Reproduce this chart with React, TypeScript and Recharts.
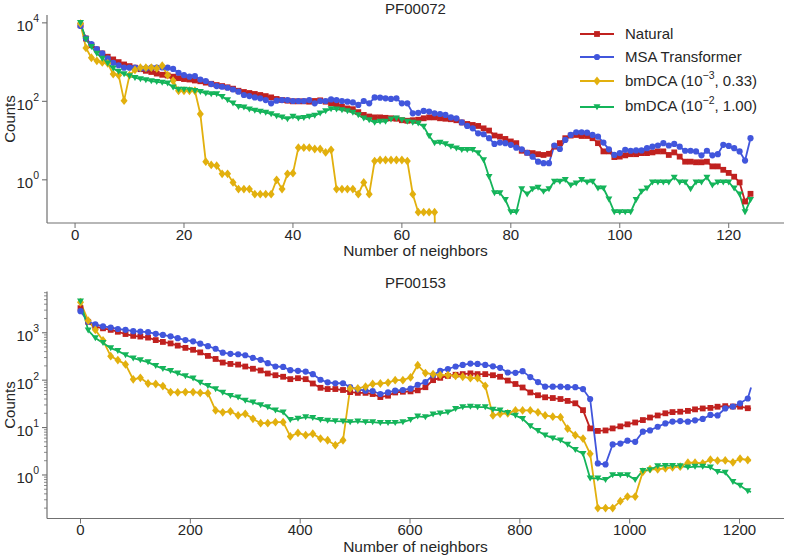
import React from 'react';
import { LineChart, Line, XAxis, YAxis } from 'recharts';

const RED = '#c0211f';
const BLUE = '#4156dc';
const GOLD = '#e2b00e';
const GREEN = '#14b45a';
const INK = '#262626';
const FRAME = '#707070';
const FONT = '"Liberation Sans", Arial, Helvetica, sans-serif';

// ---- PF00072: one point per neighbour count ----
const neighbors72 = Array.from({ length: 124 }, (_, i) => i + 1);
const natural72 = [
  8700, 4000, 2700, 2100, 1660, 1370, 1170, 1000, 870, 790,
  720, 660, 600, 560, 510, 475, 455, 425, 390, 370,
  360, 340, 325, 300, 280, 260, 245, 228, 210, 186,
  173, 163, 154, 145, 136, 126, 115, 108, 104, 100,
  100, 100, 98, 102, 106, 98, 89, 81, 73, 66,
  63, 53, 45, 41, 39, 39, 38, 37, 36, 33,
  32, 33, 34, 37, 39, 39, 37, 36, 35, 33,
  29, 26.5, 25, 23.6, 20.5, 18, 13.5, 12.6, 11, 9.5,
  8.6, 5.5, 4.9, 4.8, 4.5, 4.3, 4.6, 7.0, 8.6, 11.5,
  13.4, 13.9, 13.1, 13.1, 11.5, 8.6, 5.3, 5.3, 3.8, 3.9,
  4.2, 4.5, 4.5, 4.8, 4.8, 5.0, 5.3, 5.3, 4.3, 5.0,
  3.9, 2.9, 2.9, 2.8, 2.8, 2.9, 2.2, 2.2, 1.8, 1.5,
  1.2, 0.86, 0.28, 0.44,
];
const msa72 = [
  8300, 4000, 2880, 2140, 1660, 1240, 960, 830, 720, 720,
  720, 690, 690, 720, 720, 730, 720, 670, 535, 465,
  425, 440, 360, 330, 275, 245, 235, 222, 200, 176,
  145, 136, 126, 119, 108, 89, 104, 108, 108, 102,
  102, 102, 108, 89, 102, 102, 112, 108, 102, 98,
  94, 81, 102, 89, 126, 124, 119, 115, 119, 89,
  89, 49.6, 51, 57, 55, 49.6, 47.5, 45, 39, 37,
  29, 23.6, 20.5, 15.3, 14.5, 11.5, 8.2, 8.9, 8.6, 7.8,
  6.6, 6.0, 4.9, 3.9, 2.9, 2.65, 2.65, 7.5, 6.1, 10.4,
  13.9, 16.3, 16.3, 15.9, 13.9, 12.6, 8.9, 6.0, 4.3, 4.8,
  5.8, 5.5, 5.6, 5.6, 6.4, 7.0, 7.5, 8.6, 7.5, 8.2,
  7.0, 5.5, 5.5, 5.3, 4.2, 5.5, 4.2, 4.5, 7.8, 7.3,
  6.4, 5.3, 3.1, 11.5,
];
// last entry is a zero count (drawn as a drop off the bottom of the log axis)
const bmdca3_72 = [
  9600, 2300, 1290, 1080, 980, 930, 495, 465, 104, 465,
  630, 720, 720, 720, 690, 810, 465, 335, 186, 186,
  186, 186, 47.5, 2.9, 2.4, 2.3, 1.42, 1.42, 0.86, 0.58,
  0.58, 0.58, 0.43, 0.43, 0.43, 0.43, 1.0, 0.58, 1.42, 1.48,
  6.6, 6.6, 6.6, 6.1, 6.1, 5.0, 5.8, 0.58, 0.58, 0.58,
  0.58, 0.43, 0.86, 0.43, 3.0, 3.2, 3.2, 3.2, 3.2, 3.2,
  3.0, 0.43, 0.15, 0.15, 0.15, 0.15, 1e-6,
];
const bmdca2_72 = [
  10000, 3800, 2450, 1660, 1240, 925, 690, 570, 495, 440,
  400, 370, 350, 330, 315, 300, 287, 228, 200, 200,
  194, 186, 176, 160, 154, 154, 131, 108, 89, 73,
  70, 63, 58, 55, 52, 47.5, 42.4, 39, 35.5, 40.7,
  37, 38, 40.7, 43.5, 49.6, 56.5, 64, 63, 60, 56.5,
  51.5, 45, 37, 33.5, 28.7, 30.4, 30.4, 34.8, 37, 33.5,
  30.4, 28.7, 27.6, 22.7, 13.1, 8.6, 8.9, 8.1, 7.0, 6.4,
  5.8, 5.8, 5.8, 4.8, 3.2, 1.2, 0.46, 0.46, 0.31, 0.15,
  0.15, 0.58, 0.43, 0.58, 0.64, 0.50, 0.58, 0.91, 0.91, 1.0,
  0.72, 0.82, 1.0, 0.87, 0.91, 0.61, 0.61, 0.32, 0.15, 0.15,
  0.15, 0.15, 0.31, 0.50, 0.61, 0.87, 0.87, 0.87, 0.87, 1.15,
  0.87, 0.87, 0.58, 0.87, 0.87, 1.15, 0.72, 0.87, 0.87, 0.87,
  0.61, 0.43, 0.15, 0.31,
];

// ---- PF00153: marker positions, last one is the unmarked line end ----
const neighbors153 = [
  0, 14, 27, 41, 55, 68, 82, 96, 109, 123,
  137, 150, 164, 177, 191, 205, 218, 232, 246, 259,
  273, 287, 300, 314, 328, 341, 355, 369, 382, 396,
  410, 423, 437, 450, 464, 478, 491, 505, 519, 532,
  546, 560, 573, 587, 601, 614, 628, 642, 655, 669,
  683, 696, 710, 723, 737, 751, 764, 778, 792, 805,
  819, 833, 846, 860, 874, 887, 901, 915, 928, 942,
  956, 969, 983, 996, 1010, 1024, 1037, 1051, 1065, 1078,
  1092, 1106, 1119, 1133, 1147, 1160, 1174, 1188, 1201, 1215,
  1221,
];
const natural153 = [
  3300, 1700, 1350, 1240, 1150, 1050, 940, 860, 830, 790,
  700, 640, 595, 535, 480, 437, 385, 325, 280, 235,
  220, 213, 194, 174, 160, 138, 127, 118, 105, 110,
  105, 85, 69, 65, 65, 62, 56, 54, 54, 51,
  44, 47, 55, 57, 58, 61, 71, 100, 112, 123,
  130, 134, 139, 134, 134, 127, 118, 98, 83, 70,
  55, 48, 43.5, 42, 40, 36.5, 32.5, 23.3, 9.6, 8.5,
  8.7, 9.6, 10.6, 11.7, 12.8, 14.4, 16.3, 18, 20, 21.2,
  21.6, 22.5, 24.2, 25.3, 26, 27.5, 28.3, 27.8, 27.6, 25.6,
  25,
];
const msa153 = [
  2850, 1700, 1500, 1360, 1290, 1200, 1150, 1080, 1060, 1030,
  950, 900, 840, 770, 700, 660, 588, 520, 460, 380,
  360, 352, 335, 295, 268, 228, 194, 190, 162, 157,
  152, 134, 102, 90, 86, 86, 71, 64, 60, 59,
  51, 55, 60, 62, 66, 80, 91, 127, 157, 172,
  194, 210, 224, 220, 210, 196, 182, 145, 143, 155,
  116, 91, 73, 73, 73, 71, 71, 65, 40, 1.75,
  1.67, 4.4, 4.6, 5.3, 5.0, 8.2, 8.7, 10.4, 12.2, 13.4,
  13.7, 13.3, 14.2, 15.2, 18.5, 18, 25.4, 27.7, 32.5, 41,
  70,
];
const bmdca3_153 = [
  4400, 1800, 1150, 690, 320, 265, 215, 104, 112, 85,
  83, 75, 56, 55, 56, 56, 54, 53, 23, 21,
  22, 18, 19.5, 15.3, 12.4, 12.4, 13, 13, 6.5, 7.7,
  6.9, 7.4, 5.85, 5.4, 4.25, 5.4, 67, 67, 73, 83,
  85, 89, 100, 100, 114, 207, 141, 134, 128, 128,
  123, 118, 110, 110, 76, 18, 19.5, 20, 23, 23,
  23, 21, 18, 17, 16.6, 9.5, 6.9, 5.85, 2.8, 0.2,
  0.2, 0.2, 0.28, 0.35, 0.35, 1.17, 1.33, 1.32, 1.38, 1.45,
  1.5, 1.81, 1.81, 1.76, 2.1, 2.0, 2.03, 1.85, 2.2, 2.07,
  2.0,
];
const bmdca2_153 = [
  4600, 1120, 775, 610, 475, 415, 340, 290, 265, 240,
  200, 174, 157, 139, 122, 109, 89, 76, 65, 55,
  47, 43.5, 37, 34, 30, 27, 23, 21, 14.6, 15.5,
  16.6, 16, 14.6, 14.1, 13.7, 13.5, 13, 13.5, 13, 13,
  12.6, 12.6, 12.6, 13, 14.6, 17.2, 16.6, 19, 20, 21,
  24.8, 27, 27.8, 27, 27, 24, 23, 20.4, 18, 15.3,
  10.8, 8.5, 6.9, 5.95, 5.4, 4.4, 3.4, 2.8, 0.85, 0.85,
  0.79, 1.0, 1.0, 1.0, 0.79, 1.23, 1.27, 1.55, 1.57, 1.57,
  1.55, 1.45, 1.5, 1.5, 1.45, 1.17, 1.12, 0.72, 0.6, 0.46,
  0.44,
];

// axis ticks
const xTicks72 = [0, 20, 40, 60, 80, 100, 120];
const xTicks153 = [0, 200, 400, 600, 800, 1000, 1200];
const yMajor72 = [1, 100, 10000];
const yMajor153 = [1, 10, 100, 1000];
const yMinor153 = [0.1, 1, 10, 100, 1000]
  .flatMap((d) => [2, 3, 4, 5, 6, 7, 8, 9].map((s) => s * d))
  .filter((v) => v < 7400);

const X_DOM_72: [number, number] = [-5.15, 130.15];
const X_DOM_153: [number, number] = [-61, 1281];
const Y_DOM_72: [number, number] = [0.0794, 15849];
const Y_DOM_153: [number, number] = [0.1208, 7413];

const rows72 = neighbors72.map((x, i) => ({
  x,
  nat: natural72[i],
  msa: msa72[i],
  b3: bmdca3_72[i],
  b2: bmdca2_72[i],
  mk: true,
}));
const rows153 = neighbors153.map((x, i) => ({
  x,
  nat: natural153[i],
  msa: msa153[i],
  b3: bmdca3_153[i],
  b2: bmdca2_153[i],
  mk: i < neighbors153.length - 1,
}));

type Shape = 'square' | 'circle' | 'diamond' | 'tri';

function Marker({ shape, cx, cy, color }: { shape: Shape; cx: number; cy: number; color: string }) {
  if (shape === 'square') return <rect x={cx - 2.9} y={cy - 2.9} width={5.8} height={5.8} fill={color} />;
  if (shape === 'circle') return <circle cx={cx} cy={cy} r={3.1} fill={color} />;
  if (shape === 'diamond')
    return <polygon points={`${cx},${cy - 4.4} ${cx + 3.5},${cy} ${cx},${cy + 4.4} ${cx - 3.5},${cy}`} fill={color} />;
  return <polygon points={`${cx - 3.5},${cy - 2.8} ${cx + 3.5},${cy - 2.8} ${cx},${cy + 3.2}`} fill={color} />;
}

const dotFor = (shape: Shape, color: string) => (p: any) => {
  const key = `m-${p.index}`;
  if (p.cx == null || p.cy == null || p.value == null || !p.payload?.mk) return <g key={key} />;
  return (
    <g key={key}>
      <Marker shape={shape} cx={p.cx} cy={p.cy} color={color} />
    </g>
  );
};

const PLOT_LEFT = 47;

const logTick = (majors: number[]) => (props: any) => {
  const { y, payload } = props;
  const v = payload.value;
  const isMajor = majors.some((m) => Math.abs(m - v) < m * 1e-6);
  if (!isMajor) {
    return <line x1={PLOT_LEFT - 3} x2={PLOT_LEFT} y1={y} y2={y} stroke={FRAME} strokeWidth={0.8} />;
  }
  const e = Math.round(Math.log10(v));
  return (
    <g>
      <line x1={PLOT_LEFT - 5} x2={PLOT_LEFT} y1={y} y2={y} stroke={FRAME} strokeWidth={1.1} />
      <text x={PLOT_LEFT - 8} y={y + 8.5} textAnchor="end" fill={INK} fontSize={15} fontFamily={FONT}>
        10
        <tspan dy={-9} fontSize={10.5}>
          {e}
        </tspan>
      </text>
    </g>
  );
};

const countsLabel = (cy: number) => () => (
  <text
    x={9}
    y={cy}
    transform={`rotate(-90, 9, ${cy})`}
    textAnchor="middle"
    dominantBaseline="central"
    fill={INK}
    fontSize={15}
    fontFamily={FONT}
  >
    Counts
  </text>
);

const tickStyle = { fill: INK, fontSize: 15, fontFamily: FONT };

function Panel({ data, height, top, bottom, xDomain, xTicks, yDomain, yTicks, yMajors, xLabelOffset }: any) {
  const plotMid = (top + (height - bottom)) / 2;
  return (
    <LineChart width={785} height={height} data={data} margin={{ top, right: 1, bottom: 0, left: 0 }}>
      <XAxis
        xAxisId="top"
        orientation="top"
        dataKey="x"
        type="number"
        domain={xDomain}
        allowDataOverflow
        height={0}
        tick={false}
        tickLine={false}
        axisLine={{ stroke: FRAME, strokeWidth: 1.2 }}
      />
      <XAxis
        dataKey="x"
        type="number"
        domain={xDomain}
        allowDataOverflow
        ticks={xTicks}
        interval={0}
        height={bottom}
        tickSize={5}
        tickMargin={1}
        tick={tickStyle}
        stroke={FRAME}
        axisLine={{ stroke: FRAME, strokeWidth: 1.2 }}
        label={{
          value: 'Number of neighbors',
          position: 'insideBottom',
          offset: xLabelOffset,
          fill: INK,
          fontSize: 15.5,
          fontFamily: FONT,
        }}
      />
      <YAxis
        scale="log"
        type="number"
        domain={yDomain}
        allowDataOverflow
        ticks={yTicks}
        interval={0}
        width={PLOT_LEFT}
        tickLine={false}
        tick={logTick(yMajors)}
        axisLine={{ stroke: FRAME, strokeWidth: 1.2 }}
        label={countsLabel(plotMid)}
      />
      <YAxis
        yAxisId="frame"
        orientation="right"
        type="number"
        domain={[0, 1]}
        width={0}
        tick={false}
        tickLine={false}
        axisLine={{ stroke: FRAME, strokeWidth: 1.2 }}
      />
      <Line dataKey="nat" stroke={RED} strokeWidth={1.8} dot={dotFor('square', RED)} activeDot={false} isAnimationActive={false} />
      <Line dataKey="msa" stroke={BLUE} strokeWidth={1.8} dot={dotFor('circle', BLUE)} activeDot={false} isAnimationActive={false} />
      <Line dataKey="b3" stroke={GOLD} strokeWidth={1.8} dot={dotFor('diamond', GOLD)} activeDot={false} isAnimationActive={false} />
      <Line dataKey="b2" stroke={GREEN} strokeWidth={1.8} dot={dotFor('tri', GREEN)} activeDot={false} isAnimationActive={false} />
    </LineChart>
  );
}

function PanelTitle({ text, top }: { text: string; top: number }) {
  return (
    <div
      style={{
        position: 'absolute',
        left: 315.5,
        width: 200,
        top,
        textAlign: 'center',
        fontSize: 15,
        lineHeight: '15px',
        color: INK,
        fontFamily: FONT,
        whiteSpace: 'nowrap',
      }}
    >
      {text}
    </div>
  );
}

const supStyle: React.CSSProperties = { fontSize: 10.5, verticalAlign: 'baseline', position: 'relative', top: -7 };

const legendItems: { label: React.ReactNode; color: string; shape: Shape; cy: number }[] = [
  { label: 'Natural', color: RED, shape: 'square', cy: 34 },
  { label: 'MSA Transformer', color: BLUE, shape: 'circle', cy: 56.5 },
  {
    label: (
      <>
        bmDCA (10<sup style={supStyle}>−3</sup>, 0.33)
      </>
    ),
    color: GOLD,
    shape: 'diamond',
    cy: 81,
  },
  {
    label: (
      <>
        bmDCA (10<sup style={supStyle}>−2</sup>, 1.00)
      </>
    ),
    color: GREEN,
    shape: 'tri',
    cy: 106.5,
  },
];

function LegendBox() {
  return (
    <>
      {legendItems.map((it, i) => (
        <div
          key={i}
          style={{
            position: 'absolute',
            left: 580,
            top: it.cy - 10,
            height: 20,
            display: 'flex',
            alignItems: 'center',
            whiteSpace: 'nowrap',
            color: INK,
            fontSize: 15,
            fontFamily: FONT,
            lineHeight: '20px',
          }}
        >
          <svg width={34} height={20} style={{ display: 'block' }}>
            <line x1={0} x2={34} y1={10} y2={10} stroke={it.color} strokeWidth={1.8} />
            <Marker shape={it.shape} cx={17} cy={10} color={it.color} />
          </svg>
          <span style={{ marginLeft: 11 }}>{it.label}</span>
        </div>
      ))}
    </>
  );
}

export default function App() {
  return (
    <div
      style={{
        position: 'absolute',
        left: 0,
        top: 0,
        width: 785,
        height: 555,
        background: '#ffffff',
        fontFamily: FONT,
      }}
    >
      <div style={{ position: 'absolute', left: 0, top: 0 }}>
        <Panel
          data={rows72}
          height={260}
          top={15}
          bottom={37}
          xDomain={X_DOM_72}
          xTicks={xTicks72}
          yDomain={Y_DOM_72}
          yTicks={yMajor72}
          yMajors={yMajor72}
          xLabelOffset={4}
        />
      </div>
      <div style={{ position: 'absolute', left: 0, top: 260 }}>
        <Panel
          data={rows153}
          height={295}
          top={31.5}
          bottom={36.5}
          xDomain={X_DOM_153}
          xTicks={xTicks153}
          yDomain={Y_DOM_153}
          yTicks={[...yMajor153, ...yMinor153].sort((a, b) => a - b)}
          yMajors={yMajor153}
          xLabelOffset={3.5}
        />
      </div>
      <PanelTitle text="PF00072" top={0.5} />
      <PanelTitle text="PF00153" top={275.3} />
      <LegendBox />
    </div>
  );
}
